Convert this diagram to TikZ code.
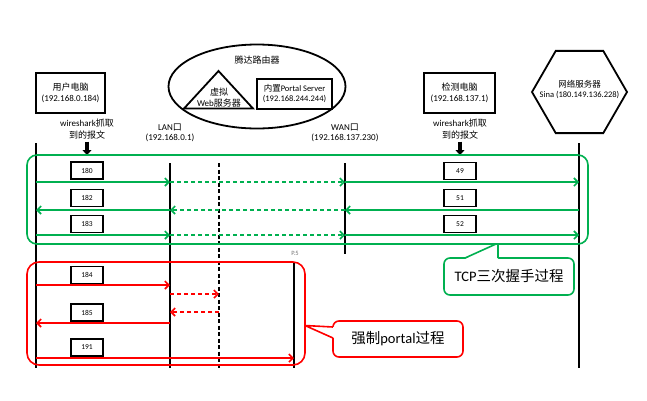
\documentclass[tikz,border=0pt]{standalone}
\usepackage{fontspec}
\setmainfont{Carlito}
\newfontfamily\cjk{Noto Sans CJK SC}
\usetikzlibrary{arrows.meta,shapes.geometric}
\definecolor{tgreen}{RGB}{0,176,80}
\definecolor{tred}{RGB}{255,0,0}
\begin{document}
\begin{tikzpicture}[x=1pt,y=-1pt,
  every node/.style={font=\fontsize{9}{10.5}\selectfont, inner sep=0pt, align=center},
  pcbox/.style={draw, line width=1.8pt, minimum height=40pt},
  numbox/.style={draw, line width=1.6pt, minimum width=32pt, minimum height=17pt, fill=white, font=\fontsize{7.5}{8}\selectfont},
  life/.style={line width=1.8pt},
  lifedash/.style={line width=1.6pt, dash pattern=on 4pt off 2.5pt},
  tipv/.style={-{Straight Barb[length=4pt,width=8pt,line width=1.6pt]}},
  gsolid/.style={tgreen, line width=1.7pt, tipv},
  gdash/.style={gsolid, dash pattern=on 4pt off 3pt},
  rsolid/.style={tred, line width=1.7pt, tipv},
  rdash/.style={rsolid, dash pattern=on 4pt off 3pt},
  blockarrow/.style={line width=3.5pt, -{Triangle[length=5pt,width=9pt]}},
  callout/.style={draw, line width=1.6pt, rounded corners=6pt, fill=white, font=\fontsize{14.5}{16}\selectfont},
  small/.style={font=\fontsize{6.5}{7}\selectfont, text=black!55}
]
\useasboundingbox (0,0) rectangle (647,400);

% ---------------- top elements ----------------
\node[pcbox, minimum width=69pt] (user) at (70.5,93) {{\cjk 用户电脑}\\(192.168.0.184)};
\node[pcbox, minimum width=71pt] (mon) at (459.5,93) {{\cjk 检测电脑}\\(192.168.137.1)};

\node[draw, ellipse, line width=1.8pt, minimum width=177pt, minimum height=84pt] (router) at (257,86.5) {};
\node (routerlbl) at (257,60) {\cjk 腾达路由器};

\coordinate (triA) at (218.5,71);
\coordinate (triL) at (184,108.5);
\coordinate (triR) at (253,108.5);
\draw[line width=1.8pt, line join=miter] (triA) -- (triL) -- (triR) -- cycle;
\node (vweb) at (219,97.5) {{\cjk 虚拟}\\Web{\cjk 服务器}};

\node[draw, line width=1.8pt, minimum width=75pt, minimum height=30pt, font=\fontsize{8.5}{10}\selectfont] (portal) at (294.5,94) {{\cjk 内置}Portal Server\\(192.168.244.244)};

\node[draw, line width=1.8pt, regular polygon, regular polygon sides=6, minimum size=95pt] (hex) at (579.5,92) {};
\node[font=\fontsize{8.5}{10}\selectfont] (hexlbl) at (579.5,89) {{\cjk 网络服务器}\\Sina (180.149.136.228)};

\node[font=\fontsize{9}{12}\selectfont] (ws1) at (87,129) {wireshark{\cjk 抓取}\\{\cjk 到的报文}};
\node[font=\fontsize{9}{12}\selectfont] (ws2) at (460,129) {wireshark{\cjk 抓取}\\{\cjk 到的报文}};
\node (lan) at (170,133) {LAN{\cjk 口}\\(192.168.0.1)};
\node (wan) at (345,133) {WAN{\cjk 口}\\(192.168.137.230)};

\coordinate (a1s) at (87,141.5);
\coordinate (a1e) at (87,155);
\coordinate (a2s) at (460,141.5);
\coordinate (a2e) at (460,155);
\draw[blockarrow] (a1s) -- (a1e);
\draw[blockarrow] (a2s) -- (a2e);

% ---------------- lifelines ----------------
\coordinate (Ut) at (36,143);  \coordinate (Ub) at (36,368);
\coordinate (Lt) at (170,163); \coordinate (Lb) at (170,368);
\coordinate (Dt) at (219,163); \coordinate (Db) at (219,368);
\coordinate (Wt) at (345,163); \coordinate (Wb) at (345,254);
\coordinate (St) at (579,143); \coordinate (Sb) at (579,368);
\coordinate (Pt) at (294,262); \coordinate (Pb) at (294,368);
\draw[life] (Ut) -- (Ub);
\draw[life] (Lt) -- (Lb);
\draw[lifedash] (Dt) -- (Db);
\draw[life] (Wt) -- (Wb);
\draw[life] (St) -- (Sb);
\draw[life] (Pt) -- (Pb);
\node[small] (p5) at (295,253) {P.5};

\foreach \yy in {182,210,235,285,294,312,323,358}{
  \foreach \nn/\xx in {U/36,L/170,D/219,W/345,S/579,P/294}{
    \coordinate (\nn\yy) at (\xx,\yy);
  }
}

% ---------------- TCP handshake (green) ----------------
\draw[tgreen, line width=1.6pt, rounded corners=10pt] (27,155) rectangle (588,244);

\draw[gsolid] (U182) -- (L182);
\draw[gdash]  (L182) -- (W182);
\draw[gsolid] (W182) -- (S182);

\draw[gsolid] (S210) -- (W210);
\draw[gdash]  (W210) -- (L210);
\draw[gsolid] (L210) -- (U210);

\draw[gsolid] (U235) -- (L235);
\draw[gdash]  (L235) -- (W235);
\draw[gsolid] (W235) -- (S235);

\node[numbox] (n180) at (87,170.5) {180};
\node[numbox] (n182) at (87,198) {182};
\node[numbox] (n183) at (87,224) {183};
\node[numbox] (n49) at (460,171) {49};
\node[numbox] (n51) at (460,198) {51};
\node[numbox] (n52) at (460,224) {52};

% ---------------- forced portal (red) ----------------
\draw[tred, line width=1.6pt, rounded corners=12pt] (27,262) rectangle (305,365);

\draw[rsolid] (U285) -- (L285);
\draw[rdash]  (L294) -- (D294);
\draw[rdash]  (D312) -- (L312);
\draw[rsolid] (L323) -- (U323);
\draw[rsolid] (U358) -- (P358);

\node[numbox] (n184) at (87,275) {184};
\node[numbox] (n185) at (87,312.5) {185};
\node[numbox] (n191) at (87,347.5) {191};

% ---------------- callouts ----------------
\node[callout, draw=tgreen, minimum width=130pt, minimum height=37pt] (tcp) at (509,276.5) {TCP{\cjk 三次握手过程}};
\coordinate (tcpA) at (465,258);
\coordinate (tcpP1) at (496,244);
\coordinate (tcpP2) at (498,244);
\coordinate (tcpB) at (498,258);
\fill[white] (465,259) -- (tcpP1) -- (tcpP2) -- (498,259) -- cycle;
\draw[tgreen, line width=1.6pt, line join=round] (tcpA) -- (tcpP1) -- (tcpP2) -- (tcpB);

\node[callout, draw=tred, minimum width=130pt, minimum height=36pt] (forced) at (398,339) {{\cjk 强制}portal{\cjk 过程}};
\coordinate (fA) at (333,327);
\coordinate (fP) at (305,325.5);
\coordinate (fB) at (333,338);
\fill[white] (334,327) -- (fP) -- (334,338) -- cycle;
\draw[tred, line width=1.6pt, line join=round] (fA) -- (fP) -- (fB);
\end{tikzpicture}
\end{document}
